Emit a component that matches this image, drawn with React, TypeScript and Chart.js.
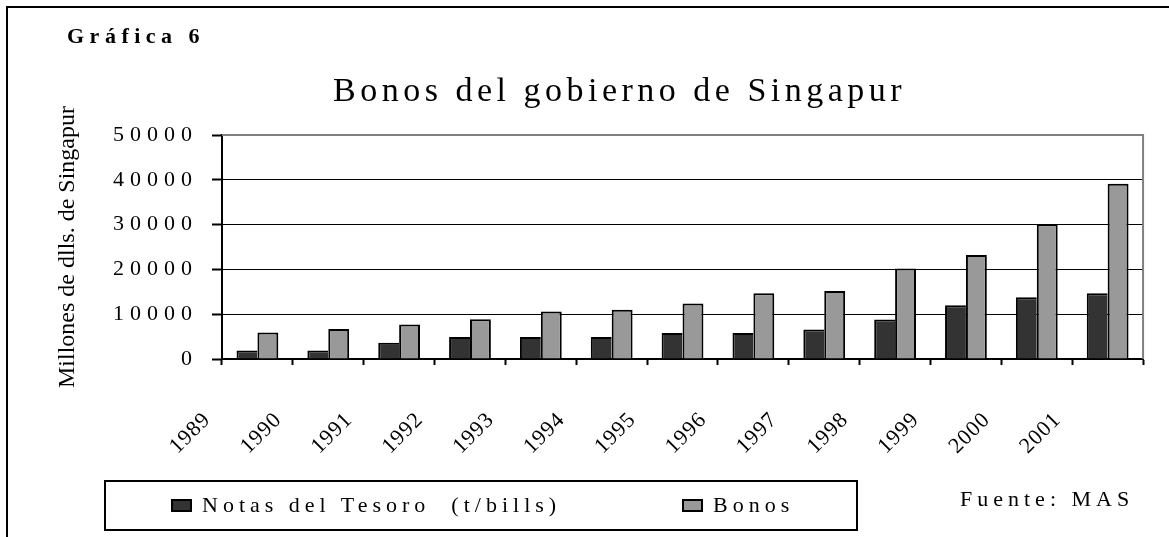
import React, { useEffect, useRef } from 'react';
import { Chart, registerables } from 'chart.js';

Chart.register(...registerables);

// ---- data ----
const years = ['1989', '1990', '1991', '1992', '1993', '1994', '1995', '1996', '1997', '1998', '1999', '2000', '2001'];
const notasDelTesoro = [1900, 1900, 3600, 4900, 4900, 4900, 5800, 5800, 6600, 8800, 12000, 13800, 14700];
const bonos = [5900, 6700, 7700, 8900, 10600, 11000, 12400, 14700, 15200, 20200, 23200, 30100, 39100];
const seriesLabels = ['Notas del Tesoro  (t/bills)', 'Bonos'];
const seriesColors = ['#333333', '#999999'];
const yMin = 0;
const yMax = 50000;
const yStep = 10000;
const chartTag = 'Gráfica 6';
const chartTitle = 'Bonos del gobierno de Singapur';
const yAxisTitle = 'Millones de dlls. de Singapur';
const sourceNote = 'Fuente: MAS';

const FONT = "'Liberation Serif', 'Times New Roman', serif";

const labelSpacing: Record<string, string> = { x: '1px', y: '6px' };

const spacingPlugin = {
  id: 'labelSpacing',
  beforeDraw(chart: any) {
    for (const id of Object.keys(labelSpacing)) {
      const s: any = chart.scales[id];
      if (s && !s.__spaced) {
        const orig = s.drawLabels.bind(s);
        s.drawLabels = (area: any) => {
          const c: any = chart.ctx;
          const prev = c.letterSpacing;
          c.letterSpacing = labelSpacing[id];
          orig(area);
          c.letterSpacing = prev || '0px';
        };
        s.__spaced = true;
      }
    }
  },
};

const frameLines = {
  id: 'frameLines',
  beforeDatasetsDraw(chart: any) {
    const { ctx, chartArea: a } = chart;
    ctx.save();
    ctx.strokeStyle = '#808080';
    ctx.lineWidth = 2;
    ctx.beginPath();
    ctx.moveTo(a.left, a.top);
    ctx.lineTo(a.right, a.top);
    ctx.lineTo(a.right, a.bottom);
    ctx.stroke();
    ctx.restore();
  },
};

export default function App() {
  const ref = useRef<HTMLCanvasElement>(null);

  useEffect(() => {
    const canvas = ref.current;
    if (!canvas) return;
    Chart.defaults.font.family = FONT;
    Chart.defaults.color = '#000';
    const chart = new Chart(canvas, {
      type: 'bar',
      data: {
        labels: years,
        datasets: [
          {
            label: seriesLabels[0],
            data: notasDelTesoro,
            backgroundColor: seriesColors[0],
            borderColor: '#000',
            borderWidth: { top: 2, left: 2, right: 0, bottom: 0 },
          },
          {
            label: seriesLabels[1],
            data: bonos,
            backgroundColor: seriesColors[1],
            borderColor: '#000',
            borderWidth: 2,
          },
        ],
      },
      options: {
        responsive: false,
        animation: false,
        devicePixelRatio: 1,
        layout: { padding: { left: 0, right: 18, top: 135, bottom: 0 } },
        datasets: { bar: { categoryPercentage: 0.59, barPercentage: 1 } },
        plugins: {
          legend: { display: false },
          title: { display: false },
          tooltip: { enabled: false },
        },
        scales: {
          x: {
            grid: {
              display: true,
              drawOnChartArea: false,
              drawTicks: true,
              tickLength: 6,
              tickColor: '#000',
              tickWidth: 2,
              offset: true,
            },
            border: { display: true, color: '#000', width: 2 },
            ticks: {
              autoSkip: false,
              minRotation: 45,
              maxRotation: 45,
              labelOffset: -50,
              padding: 42,
              color: '#000',
              font: { size: 22, family: FONT },
            },
            afterFit: (s: any) => {
              s.height = 178;
            },
          },
          y: {
            min: yMin,
            max: yMax,
            ticks: {
              stepSize: yStep,
              padding: 14,
              color: '#000',
              font: { size: 22, family: FONT },
              callback: (v: any) => String(v),
            },
            grid: {
              color: (c: any) => (c.tick && c.tick.value === yMax ? '#808080' : '#000'),
              lineWidth: 1,
              tickLength: 10,
              tickColor: '#000',
              tickWidth: 2,
            },
            border: { display: true, color: '#000', width: 2 },
            title: {
              display: true,
              text: yAxisTitle,
              color: '#000',
              font: { size: 24, family: FONT },
              padding: { top: 53, bottom: 0 },
            },
            afterFit: (s: any) => {
              s.width = 222;
            },
          },
        },
      } as any,
      plugins: [spacingPlugin, frameLines],
    });
    return () => chart.destroy();
  }, []);

  const text = (extra: React.CSSProperties): React.CSSProperties => ({
    position: 'absolute',
    fontFamily: FONT,
    color: '#000',
    whiteSpace: 'pre',
    lineHeight: 1,
    ...extra,
  });

  return (
    <div
      style={{
        position: 'absolute',
        left: 0,
        top: 0,
        width: 1169,
        height: 537,
        overflow: 'hidden',
        background: '#fff',
      }}
    >
      <div
        style={{
          position: 'absolute',
          left: 6,
          top: 6,
          width: 1400,
          height: 800,
          border: '2px solid #000',
        }}
      />
      <canvas
        ref={ref}
        width={1169}
        height={537}
        style={{ position: 'absolute', left: 0, top: 0, width: 1169, height: 537, display: 'block' }}
      />
      <div style={text({ left: 67, top: 25, fontSize: 22, fontWeight: 'bold', letterSpacing: '5.5px' })}>{chartTag}</div>
      <div style={text({ left: 333, top: 73, fontSize: 34, letterSpacing: '4.5px' })}>{chartTitle}</div>
      <div
        style={{
          position: 'absolute',
          left: 104,
          top: 480,
          width: 754,
          height: 51,
          border: '2px solid #000',
          boxSizing: 'border-box',
        }}
      />
      <div
        style={{
          position: 'absolute',
          left: 171,
          top: 499,
          width: 21,
          height: 13,
          background: seriesColors[0],
          border: '2px solid #000',
          boxSizing: 'border-box',
        }}
      />
      <div style={text({ left: 202, top: 494, fontSize: 22, letterSpacing: '5px' })}>{seriesLabels[0]}</div>
      <div
        style={{
          position: 'absolute',
          left: 682,
          top: 499,
          width: 21,
          height: 13,
          background: seriesColors[1],
          border: '2px solid #000',
          boxSizing: 'border-box',
        }}
      />
      <div style={text({ left: 713, top: 494, fontSize: 22, letterSpacing: '5px' })}>{seriesLabels[1]}</div>
      <div style={text({ left: 960, top: 488, fontSize: 22, letterSpacing: '5px' })}>{sourceNote}</div>
    </div>
  );
}
